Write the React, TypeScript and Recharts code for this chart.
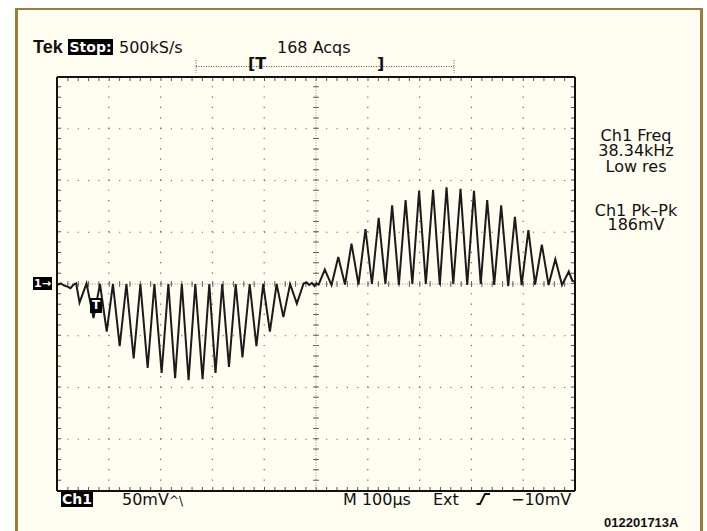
import React from "react";
import { LineChart, Line, XAxis, YAxis, ReferenceLine } from "recharts";

// trace: time in µs (100 µs/div), level in mV (50 mV/div)
const traceUs = [
  0, 7, 14, 20, 26, 32, 37, 43.5, 57, 70.5, 83, 96, 108, 121, 134, 148, 161, 175, 188, 202,
  215, 228, 241, 254, 267, 281, 294, 306, 319, 332, 345, 358, 372, 385, 398, 411, 424, 437, 450, 463,
  476, 482, 487, 492, 497, 501, 505, 517, 530, 543, 556, 568.5, 582, 595.5, 608, 621, 634, 647, 660, 673,
  686, 699, 712, 726, 739, 752, 765, 779, 792, 805, 818, 830.5, 844, 857.5, 871, 884, 897, 910, 923, 936,
  949, 962, 975, 988, 995, 1000,
];
const traceMv = [
  -1, 0.5, -1.5, -2.5, -4, -0.5, 0.5, -18, 0.5, -33, 0, -46, 0, -60, 0, -72, 0, -81, 0, -86,
  0, -91, 0, -93, 0, -92, 0, -86, 0, -80, 0, -71, 0, -60, 0, -46, 0, -32, 0, -19,
  0.5, 1.5, -1, 1, -2, 0.5, -0.5, 14, -1, 26, -0.5, 39, -0.5, 53, 0, 64, 0, 76, -1, 81,
  0, 90, 0, 91, -1, 93.5, 0, 92, -1, 90, 0, 81, -1, 76, -2, 65, -1, 52, -0.5, 38,
  -1, 24, -1, 12, 3, 2,
];

// graticule: 10 x 100 µs, 8 x 50 mV
const majorUs = [0, 100, 200, 300, 400, 500, 600, 700, 800, 900, 1000];
const majorMv = [-200, -150, -100, -50, 0, 50, 100, 150, 200];

const data = traceUs.map((t, i) => ({ t, v: traceMv[i] }));

const sans = "'DejaVu Sans', Verdana, sans-serif";
const dot = "1.2 9.15"; // one dot every fifth of a division
const tick = "1 9.35";
const frame = { stroke: "#111", strokeWidth: 2 };

function Txt({ x, y, size = 16, bold = false, color = "#111", family = sans, children }: any) {
  return (
    <div
      style={{
        position: "absolute",
        left: x,
        top: y,
        fontFamily: family,
        fontSize: size,
        lineHeight: `${size}px`,
        fontWeight: bold ? 700 : 400,
        color,
        whiteSpace: "nowrap",
      }}
    >
      {children}
    </div>
  );
}

function Box({ x, y, w, h, size = 14, children }: any) {
  return (
    <div
      style={{
        position: "absolute",
        left: x,
        top: y,
        width: w,
        height: h,
        background: "#000",
        color: "#fff",
        fontFamily: sans,
        fontWeight: 700,
        fontSize: size,
        lineHeight: `${h}px`,
        textAlign: "center",
        whiteSpace: "nowrap",
      }}
    >
      {children}
    </div>
  );
}

function Centered({ y, children }: any) {
  return (
    <div
      style={{
        position: "absolute",
        left: 576,
        width: 120,
        top: y,
        textAlign: "center",
        fontFamily: sans,
        fontSize: 16,
        lineHeight: "14px",
        color: "#111",
        whiteSpace: "nowrap",
      }}
    >
      {children}
    </div>
  );
}

export default function App() {
  return (
    <div style={{ position: "fixed", left: 0, top: 0, width: 707, height: 531, background: "#fff", overflow: "hidden" }}>
      <div
        style={{
          position: "absolute",
          left: 15,
          top: 8,
          width: 688,
          height: 540,
          boxSizing: "border-box",
          borderStyle: "solid",
          borderColor: "#9d7b3b",
          borderWidth: "2px 3px 3px 3px",
          background: "#fffef1",
        }}
      />

      <div style={{ position: "absolute", left: 0, top: 0 }}>
        <LineChart width={707} height={531} data={data} margin={{ top: 76, right: 131, bottom: 39, left: 56 }}>
          <XAxis dataKey="t" type="number" domain={[0, 1000]} ticks={majorUs} height={1} axisLine={frame} tickLine={false} tick={false} allowDataOverflow />
          <XAxis xAxisId="top" orientation="top" type="number" domain={[0, 1000]} height={1} axisLine={frame} tickLine={false} tick={false} allowDataOverflow />
          <YAxis type="number" domain={[-200, 200]} ticks={majorMv} width={1} axisLine={frame} tickLine={false} tick={false} allowDataOverflow />
          <YAxis yAxisId="right" orientation="right" type="number" domain={[-200, 200]} width={1} axisLine={frame} tickLine={false} tick={false} allowDataOverflow />

          {majorUs.map((u) => (
            <ReferenceLine key={`gx${u}`} x={u} stroke="#6a6a6a" strokeWidth={1.2} strokeDasharray={dot} />
          ))}
          {majorMv.map((m) => (
            <ReferenceLine key={`gy${m}`} y={m} stroke="#6a6a6a" strokeWidth={1.2} strokeDasharray={dot} />
          ))}

          {/* small inward ticks on the frame */}
          <ReferenceLine x={4} stroke="#555" strokeWidth={4} strokeDasharray={tick} />
          <ReferenceLine x={996} stroke="#555" strokeWidth={4} strokeDasharray={tick} />
          <ReferenceLine y={198} stroke="#555" strokeWidth={4} strokeDasharray={tick} />
          <ReferenceLine y={-198} stroke="#555" strokeWidth={4} strokeDasharray={tick} />

          {/* centre lines with their cross ticks */}
          <ReferenceLine x={500} stroke="#999" strokeDasharray="1 1.5" />
          <ReferenceLine y={0} stroke="#999" strokeDasharray="1 1.5" />
          <ReferenceLine x={500} stroke="#666" strokeWidth={6} strokeDasharray={tick} />
          <ReferenceLine y={0} stroke="#666" strokeWidth={6} strokeDasharray={tick} />

          <Line dataKey="v" type="linear" stroke="#1b1b1b" strokeWidth={2} dot={false} isAnimationActive={false} />
        </LineChart>
      </div>

      <svg width={707} height={531} style={{ position: "absolute", left: 0, top: 0, pointerEvents: "none" }}>
        <line x1={196} y1={66.5} x2={454} y2={66.5} stroke="#555" strokeDasharray="1 1.5" />
        <line x1={196} y1={60} x2={196} y2={73} stroke="#555" strokeDasharray="1 1.5" />
        <line x1={454} y1={60} x2={454} y2={73} stroke="#555" strokeDasharray="1 1.5" />
        <path d="M476.5 504 L480 504 L485 494 L490 494" fill="none" stroke="#111" strokeWidth={2} />
      </svg>

      <Txt x={33} y={38} size={18} bold family="'Liberation Sans', Arial, sans-serif">Tek</Txt>
      <Box x={68} y={39} w={45} h={16}>Stop:</Box>
      <Txt x={119} y={39.5}>500kS/s</Txt>
      <Txt x={277} y={39.5}>168 Acqs</Txt>
      <Txt x={248} y={56} size={16} bold>[T</Txt>
      <Txt x={377} y={56} size={16} bold>]</Txt>

      <Centered y={128.5}>Ch1 Freq</Centered>
      <Centered y={144}>38.34kHz</Centered>
      <Centered y={159.5}>Low res</Centered>
      <Centered y={204}>Ch1 Pk–Pk</Centered>
      <Centered y={218}>186mV</Centered>

      <Box x={33} y={277} w={19} h={13} size={11}>1→</Box>
      <Box x={90} y={298} w={12} h={15} size={12}>T</Box>

      <Box x={61} y={492} w={32} h={15}>Ch1</Box>
      <Txt x={122} y={491.5}>50mV<span style={{ fontSize: 12 }}>^\</span></Txt>
      <Txt x={343} y={491.5}>M 100µs</Txt>
      <Txt x={433} y={491.5}>Ext</Txt>
      <Txt x={511} y={491.5}>−10mV</Txt>
      <Txt x={604} y={516} size={13} bold family="'Liberation Sans', Arial, sans-serif">012201713A</Txt>
    </div>
  );
}
